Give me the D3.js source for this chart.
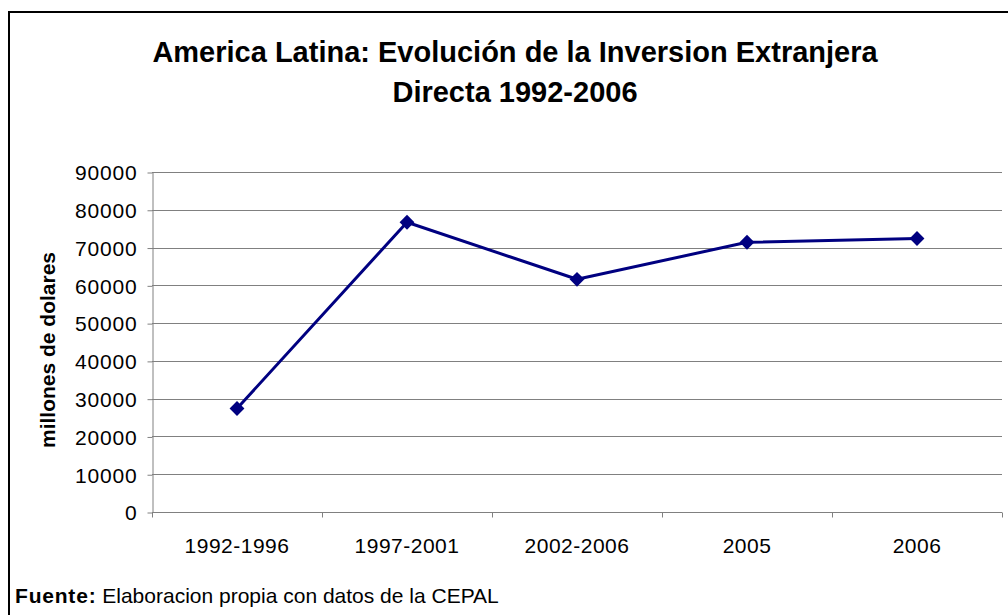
<!DOCTYPE html>
<html>
<head>
<meta charset="utf-8">
<script src="https://cdn.jsdelivr.net/npm/d3@7"></script>
<style>
  html, body { margin: 0; padding: 0; background: #fff; }
  svg { display: block; font-family: "Liberation Sans", Arial, sans-serif; }
</style>
</head>
<body>
<svg id="chart" width="1008" height="615"></svg>
<script>
const categories = ["1992-1996", "1997-2001", "2002-2006", "2005", "2006"];
const values = [27400, 76700, 61600, 71400, 72400];
const yTicks = [0, 10000, 20000, 30000, 40000, 50000, 60000, 70000, 80000, 90000];
const titleLines = ["America Latina: Evolución de la Inversion Extranjera", "Directa 1992-2006"];
const yAxisTitle = "millones de dolares";
const sourceLabel = "Fuente:";
const sourceText = " Elaboracion propia con datos de la CEPAL";

const svg = d3.select("#chart");
const W = 1008, H = 615;
const plot = { left: 152, right: 1002, top: 172, bottom: 512 };
const navy = "#000080";
const grid = "#808080";

svg.append("rect").attr("width", W).attr("height", H).attr("fill", "#fff");
// outer frame
svg.append("path")
  .attr("d", `M9,${H + 2} V12 H${W + 2}`)
  .attr("fill", "none").attr("stroke", "#000").attr("stroke-width", 2);

const x = d3.scaleBand().domain(categories).range([plot.left, plot.right]).padding(0);
const y = d3.scaleLinear().domain([0, 90000]).range([plot.bottom, plot.top]);

// title
const title = svg.append("text")
  .attr("text-anchor", "middle")
  .attr("font-size", 29).attr("font-weight", "bold").attr("fill", "#000");
titleLines.forEach((t, i) => {
  title.append("tspan").attr("x", 515).attr("y", 62 + i * 40).text(t);
});

// gridlines
svg.append("g").selectAll("line")
  .data(yTicks.filter(d => d > 0))
  .join("line")
  .attr("x1", plot.left).attr("x2", plot.right)
  .attr("y1", d => Math.round(y(d)) + 0.5).attr("y2", d => Math.round(y(d)) + 0.5)
  .attr("stroke", grid).attr("stroke-width", 1);

// y axis
const yAxis = svg.append("g")
  .attr("transform", `translate(${plot.left + 0.5},0.5)`)
  .call(d3.axisLeft(y).tickValues(yTicks).tickSize(5).tickPadding(10).tickSizeOuter(0).tickFormat(d3.format("d")));
yAxis.select(".domain").attr("stroke", grid);
yAxis.selectAll(".tick line").attr("stroke", grid);
yAxis.selectAll(".tick text")
  .attr("font-size", 21).attr("font-family", "Liberation Sans, Arial, sans-serif")
  .attr("fill", "#000").attr("letter-spacing", 0.8).attr("dy", "0.35em");

// x axis
const xAxisG = svg.append("g").attr("transform", `translate(0,${Math.round(plot.bottom) + 0.5})`);
xAxisG.append("line")
  .attr("x1", plot.left).attr("x2", plot.right)
  .attr("stroke", grid);
const boundaries = categories.map(c => x(c)).concat([x(categories[categories.length - 1]) + x.bandwidth()]);
xAxisG.selectAll("line.tk").data(boundaries).join("line")
  .attr("class", "tk")
  .attr("x1", d => Math.round(d) + 0.5).attr("x2", d => Math.round(d) + 0.5)
  .attr("y1", 0).attr("y2", 5)
  .attr("stroke", grid);
xAxisG.selectAll("text").data(categories).join("text")
  .attr("x", d => x(d) + x.bandwidth() / 2)
  .attr("y", 40)
  .attr("text-anchor", "middle")
  .attr("font-size", 21).attr("letter-spacing", 0.5).attr("fill", "#000")
  .text(d => d);

// y axis title
svg.append("text")
  .attr("transform", `translate(55,${(plot.top + plot.bottom) / 2 + 8}) rotate(-90)`)
  .attr("text-anchor", "middle")
  .attr("font-size", 21).attr("font-weight", "bold").attr("fill", "#000")
  .text(yAxisTitle);

// line
const pts = categories.map((c, i) => [x(c) + x.bandwidth() / 2, y(values[i])]);
svg.append("path")
  .attr("d", d3.line()(pts))
  .attr("fill", "none").attr("stroke", navy).attr("stroke-width", 3)
  .attr("stroke-linejoin", "round");

svg.append("g").selectAll("path")
  .data(pts)
  .join("path")
  .attr("transform", d => `translate(${d[0]},${d[1]})`)
  .attr("d", d3.symbol(d3.symbolDiamond2, 140)())
  .attr("fill", navy);

// source
const src = svg.append("text").attr("x", 15).attr("y", 603).attr("font-size", 21).attr("fill", "#000");
src.append("tspan").attr("font-weight", "bold").attr("letter-spacing", 0.8).text(sourceLabel);
src.append("tspan").text(sourceText);
</script>
</body>
</html>
